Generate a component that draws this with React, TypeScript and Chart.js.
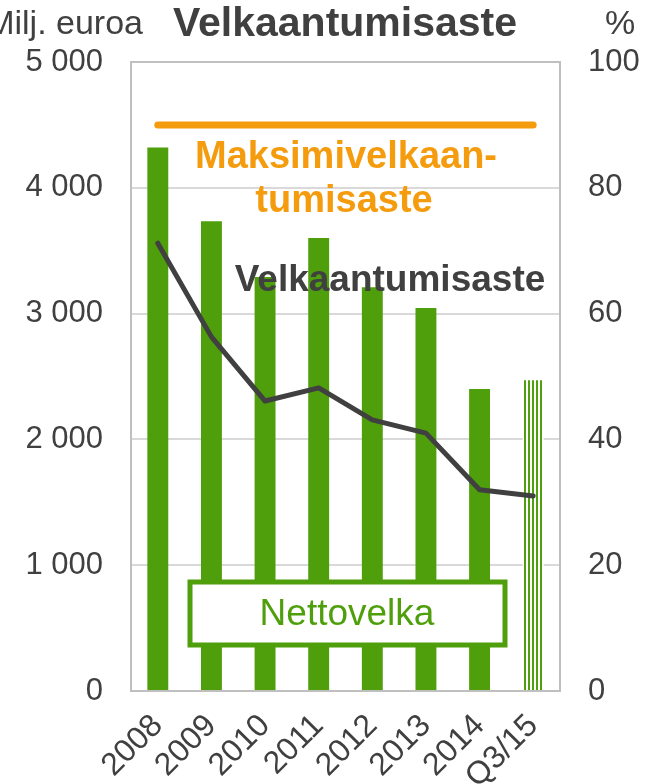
import React, { useEffect, useRef } from 'react';
import { Chart, registerables } from 'chart.js';
Chart.register(...registerables);

const categories = ['2008', '2009', '2010', '2011', '2012', '2013', '2014', 'Q3/15'];
const netDebt = [4320, 3735, 3290, 3600, 3210, 3045, 2400, 2470];
const debtRatio = [71.2, 56.3, 46.1, 48.2, 43.1, 41.0, 32.0, 31.0];
const maxRatio = [90, 90, 90, 90, 90, 90, 90, 90];
const leftMax = 5000;
const leftStep = 1000;
const rightMax = 100;
const rightStep = 20;

const FONT = '"Liberation Sans", Arial, sans-serif';
const GREEN = '#4f9e0c';
const ORANGE = '#f59c0e';
const DARK = '#404040';

function fmt(v: number): string {
  if (v >= 1000) return `${Math.floor(v / 1000)} ${String(v % 1000).padStart(3, '0')}`;
  return String(v);
}

function makePattern(): CanvasPattern | string {
  const c = document.createElement('canvas');
  c.width = 4;
  c.height = 4;
  const g = c.getContext('2d');
  if (!g) return GREEN;
  g.fillStyle = '#ffffff';
  g.fillRect(0, 0, 4, 4);
  g.fillStyle = GREEN;
  g.fillRect(0, 0, 2, 4);
  const p = g.createPattern(c, 'repeat');
  return p || GREEN;
}

const overlay = {
  id: 'overlay',
  beforeDatasetsDraw(chart: any) {
    const { ctx, chartArea } = chart;
    const { left, right, top, bottom } = chartArea;
    ctx.save();
    ctx.strokeStyle = '#bfbfbf';
    ctx.lineWidth = 2;
    ctx.strokeRect(left, top, right - left, bottom - top);
    ctx.restore();
  },
  afterDatasetsDraw(chart: any) {
    const { ctx } = chart;
    ctx.save();
    ctx.textAlign = 'center';
    ctx.textBaseline = 'middle';
    // Maksimivelkaantumisaste label
    ctx.fillStyle = ORANGE;
    ctx.font = `bold 38px ${FONT}`;
    ctx.fillText('Maksimivelkaan-', 346, 158);
    ctx.fillText('tumisaste', 344, 202);
    // Velkaantumisaste label
    ctx.fillStyle = DARK;
    ctx.font = `bold 37px ${FONT}`;
    ctx.fillText('Velkaantumisaste', 390, 281);
    // Nettovelka box
    ctx.fillStyle = '#ffffff';
    ctx.fillRect(190, 582, 315, 63);
    ctx.strokeStyle = GREEN;
    ctx.lineWidth = 5;
    ctx.strokeRect(190, 582, 315, 63);
    ctx.fillStyle = GREEN;
    ctx.font = `37px ${FONT}`;
    ctx.fillText('Nettovelka', 347, 615);
    // Titles
    ctx.fillStyle = DARK;
    ctx.font = `bold 41px ${FONT}`;
    ctx.fillText('Velkaantumisaste', 345, 25);
    ctx.font = `34px ${FONT}`;
    ctx.textAlign = 'right';
    ctx.fillText('Milj. euroa', 143, 25);
    ctx.textAlign = 'center';
    ctx.fillText('%', 620, 25);
    ctx.restore();
  },
};

export default function App() {
  const ref = useRef<HTMLCanvasElement>(null);
  useEffect(() => {
    document.body.style.margin = '0';
    const canvas = ref.current;
    if (!canvas) return;
    const pattern = makePattern();
    const barColors = netDebt.map((_, i) => (i === netDebt.length - 1 ? pattern : GREEN));
    const chart = new Chart(canvas, {
      type: 'bar',
      data: {
        labels: categories,
        datasets: [
          {
            type: 'line',
            label: 'Maksimivelkaantumisaste',
            data: maxRatio,
            yAxisID: 'y1',
            borderColor: ORANGE,
            borderWidth: 7,
            borderCapStyle: 'round',
            pointRadius: 0,
            order: 1,
          } as any,
          {
            type: 'line',
            label: 'Velkaantumisaste',
            data: debtRatio,
            yAxisID: 'y1',
            borderColor: DARK,
            borderWidth: 5,
            borderCapStyle: 'round',
            borderJoinStyle: 'round',
            pointRadius: 0,
            tension: 0,
            order: 2,
          } as any,
          {
            type: 'bar',
            label: 'Nettovelka',
            data: netDebt,
            yAxisID: 'y',
            backgroundColor: barColors as any,
            barPercentage: 0.39,
            categoryPercentage: 1,
            order: 3,
          },
        ],
      },
      options: {
        responsive: false,
        animation: false,
        layout: { padding: { top: 62, left: 0, right: 0, bottom: 0 } },
        plugins: {
          legend: { display: false },
          tooltip: { enabled: false },
          title: { display: false },
        },
        scales: {
          x: {
            grid: { display: false, drawTicks: false },
            border: { display: false },
            ticks: {
              color: DARK,
              font: { family: FONT, size: 32 },
              maxRotation: 45,
              minRotation: 45,
              autoSkip: false,
              padding: 16,
            },
            afterFit(scale: any) {
              scale.height = 93;
            },
          },
          y: {
            position: 'left',
            min: 0,
            max: leftMax,
            grid: { color: '#d9d9d9', lineWidth: 2, drawTicks: false },
            border: { display: false },
            ticks: {
              stepSize: leftStep,
              color: DARK,
              font: { family: FONT, size: 31 },
              padding: 28,
              callback: (v: any) => fmt(Number(v)),
            },
            afterFit(scale: any) {
              scale.width = 131;
            },
          },
          y1: {
            position: 'right',
            min: 0,
            max: rightMax,
            grid: { display: false, drawTicks: false },
            border: { display: false },
            ticks: {
              stepSize: rightStep,
              color: DARK,
              font: { family: FONT, size: 31 },
              padding: 28,
            },
            afterFit(scale: any) {
              scale.width = 86;
            },
          },
        },
      },
      plugins: [overlay],
    });
    return () => chart.destroy();
  }, []);
  return (
    <div style={{ width: 646, height: 784 }}>
      <canvas ref={ref} width={646} height={784} />
    </div>
  );
}
